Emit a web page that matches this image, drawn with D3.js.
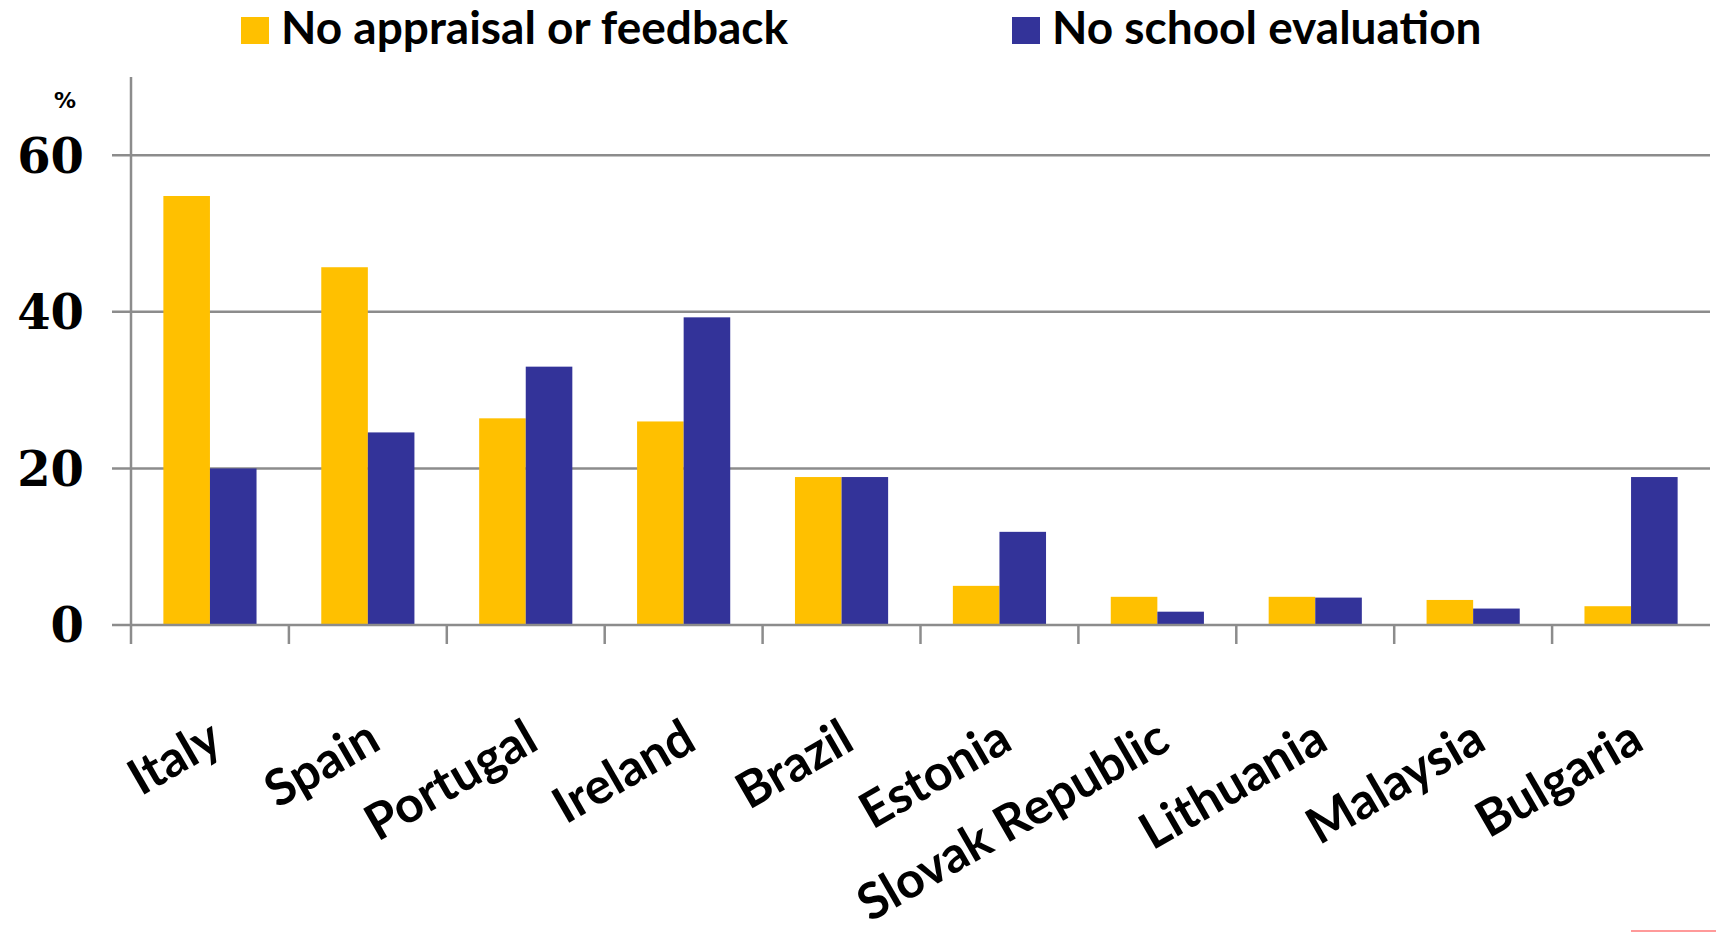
<!DOCTYPE html>
<html>
<head>
<meta charset="utf-8">
<title></title>
<style>
body { margin: 0; background: #fff; }
.grid line { stroke: #8c8c8c; stroke-width: 2.5px; }
.ylab { font: bold 48px "DejaVu Serif", serif; fill: #000; }
.xlab { font: bold 50px "Comic Sans MS", "Lato", sans-serif; fill: #000; }
.legend text { font: bold 46px "Comic Sans MS", "Lato", sans-serif; fill: #000; }
</style>
</head>
<body>
<script src="https://cdn.jsdelivr.net/npm/d3@7"></script>
<script>

var countries = ["Italy", "Spain", "Portugal", "Ireland", "Brazil", "Estonia",
                 "Slovak Republic", "Lithuania", "Malaysia", "Bulgaria"];
var noAppraisal = [54.8, 45.7, 26.4, 26.0, 18.9, 5.0, 3.6, 3.6, 3.2, 2.4];
var noSchoolEval = [20.0, 24.6, 33.0, 39.3, 18.9, 11.9, 1.7, 3.5, 2.1, 18.9];
var seriesNames = ["No appraisal or feedback", "No school evaluation"];
var seriesColors = ["#ffc000", "#333399"];
var yTicks = [0, 20, 40, 60];

var width = 1716, height = 933;
var plotLeft = 131, plotRight = 1710, plotTop = 77, plotBottom = 625;
var axisColor = "#8c8c8c";

var svg = d3.select("body").append("svg")
    .attr("width", width)
    .attr("height", height);

var rows = countries.map(function(c, i) {
  return {country: c, values: [noAppraisal[i], noSchoolEval[i]]};
});

var x0 = d3.scaleBand()
    .domain(countries)
    .range([plotLeft, plotRight])
    .paddingInner(0.41)
    .paddingOuter(0.205);

var x1 = d3.scaleBand()
    .domain([0, 1])
    .range([0, x0.bandwidth()]);

var y = d3.scaleLinear()
    .domain([0, 70])
    .range([plotBottom, plotTop]);

// gridlines
svg.append("g")
    .attr("class", "grid")
    .selectAll("line")
    .data(yTicks.filter(function(d) { return d > 0; }))
    .enter().append("line")
    .attr("x1", plotLeft - 19)
    .attr("x2", plotRight)
    .attr("y1", function(d) { return y(d); })
    .attr("y2", function(d) { return y(d); });

// bars
var group = svg.append("g")
    .selectAll("g")
    .data(rows)
    .enter().append("g")
    .attr("transform", function(d) { return "translate(" + x0(d.country) + ",0)"; });

group.selectAll("rect")
    .data(function(d) { return d.values; })
    .enter().append("rect")
    .attr("x", function(d, i) { return x1(i); })
    .attr("width", x1.bandwidth())
    .attr("y", function(d) { return y(d); })
    .attr("height", function(d) { return plotBottom - y(d); })
    .style("fill", function(d, i) { return seriesColors[i]; });

// y axis line
svg.append("line")
    .attr("x1", plotLeft).attr("x2", plotLeft)
    .attr("y1", plotTop).attr("y2", plotBottom + 19)
    .style("stroke", axisColor).style("stroke-width", 2.5);

// x axis line + ticks between groups
svg.append("line")
    .attr("x1", plotLeft - 19).attr("x2", plotRight)
    .attr("y1", plotBottom).attr("y2", plotBottom)
    .style("stroke", axisColor).style("stroke-width", 2.5);

svg.append("g")
    .selectAll("line")
    .data(countries.slice(1))
    .enter().append("line")
    .attr("x1", function(d) { return x0(d) - x0.step() * 0.205; })
    .attr("x2", function(d) { return x0(d) - x0.step() * 0.205; })
    .attr("y1", plotBottom)
    .attr("y2", plotBottom + 19)
    .style("stroke", axisColor).style("stroke-width", 2.5);

// y labels
svg.append("g")
    .selectAll("text")
    .data(yTicks)
    .enter().append("text")
    .attr("class", "ylab")
    .attr("x", 84)
    .attr("y", function(d) { return y(d); })
    .attr("dy", "0.36em")
    .attr("text-anchor", "end")
    .text(function(d) { return d; });

svg.append("text")
    .attr("x", 65)
    .attr("y", 108)
    .attr("text-anchor", "middle")
    .style("font", "bold 22px 'DejaVu Sans', sans-serif")
    .text("%");

// x labels
svg.append("g")
    .selectAll("text")
    .data(countries)
    .enter().append("text")
    .attr("class", "xlab")
    .attr("text-anchor", "end")
    .attr("transform", function(d) {
      return "translate(" + (x0(d) + x0.bandwidth() / 2 + 15) + ",748) rotate(-30)";
    })
    .text(function(d) { return d; });

// legend
var legendX = [241, 1012];
var legend = svg.append("g")
    .attr("class", "legend")
    .selectAll("g")
    .data(seriesNames)
    .enter().append("g")
    .attr("transform", function(d, i) { return "translate(" + legendX[i] + ",0)"; });

legend.append("rect")
    .attr("x", 0).attr("y", 17)
    .attr("width", 28).attr("height", 27)
    .style("fill", function(d, i) { return seriesColors[i]; });

legend.append("text")
    .attr("x", 40)
    .attr("y", 44)
    .text(function(d) { return d; });

// little mark at bottom right
svg.append("line")
    .attr("x1", 1631).attr("x2", 1716)
    .attr("y1", 931).attr("y2", 931)
    .style("stroke", "#ff9a9a").style("stroke-width", 2);

</script>
</body>
</html>
